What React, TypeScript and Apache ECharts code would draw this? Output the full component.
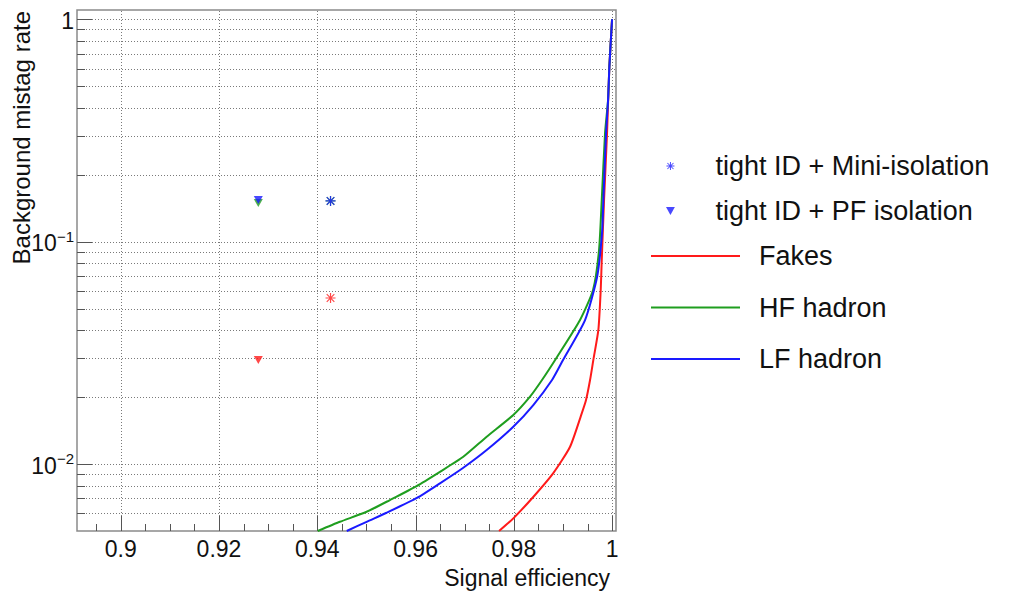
import React, { useEffect, useRef } from "react";
import * as echarts from "echarts";

// ---------- data ----------
const X_MIN = 0.8911;
const X_MAX = 1.0008;
const Y_MIN = 0.005;
const Y_MAX = 1.1;

const xMajorTicks = [0.9, 0.92, 0.94, 0.96, 0.98, 1.0];
const xMinorTicks = [0.895, 0.905, 0.91, 0.915, 0.925, 0.93, 0.935, 0.945, 0.95, 0.955, 0.965, 0.97, 0.975, 0.985, 0.99, 0.995];
const yMajorTicks = [0.01, 0.1, 1];
const yMinorTicks = [0.006, 0.007, 0.008, 0.009, 0.02, 0.03, 0.04, 0.05, 0.06, 0.07, 0.08, 0.09, 0.2, 0.3, 0.4, 0.5, 0.6, 0.7, 0.8, 0.9];

// ROC curves: signal efficiency vs background mistag rate
const fakesEff = [0.977, 0.9799, 0.984, 0.988, 0.99145, 0.99383, 0.9947, 0.99552, 0.99619, 0.99721, 0.99769, 0.9979, 0.99837, 0.99898, 0.99945, 1.0];
const fakesRate = [0.005, 0.0057, 0.00713, 0.00908, 0.01196, 0.0169, 0.0194, 0.02386, 0.0294, 0.0401, 0.0606, 0.0827, 0.1539, 0.3081, 0.612, 1.0];

const hfEff = [0.9401, 0.9446, 0.95004, 0.95479, 0.96022, 0.96497, 0.96972, 0.97448, 0.9799, 0.9833, 0.98574, 0.9888, 0.99348, 0.99613, 0.99735, 0.9979, 0.99857, 0.99919, 0.99945, 1.0];
const hfRate = [0.005, 0.0055, 0.0061, 0.00689, 0.00796, 0.00923, 0.01078, 0.01327, 0.01661, 0.02008, 0.02386, 0.03029, 0.04442, 0.0606, 0.09173, 0.1539, 0.3081, 0.4336, 0.612, 1.0];

const lfEff = [0.946, 0.95004, 0.95411, 0.96029, 0.96497, 0.96965, 0.97448, 0.97984, 0.98397, 0.98778, 0.99002, 0.9945, 0.99695, 0.99796, 0.99823, 0.99878, 0.99919, 0.99945, 1.0];
const lfRate = [0.005, 0.0055, 0.00604, 0.00704, 0.00819, 0.0096, 0.01156, 0.01467, 0.01842, 0.02386, 0.02936, 0.04442, 0.06934, 0.1094, 0.1539, 0.3081, 0.4336, 0.612, 1.0];

// working points, order: Fakes, HF hadron, LF hadron
const miniIsoEff = [0.9427, 0.9427, 0.9427];
const miniIsoRate = [0.0558, 0.1524, 0.1524];
const pfIsoEff = [0.928, 0.928, 0.928];
const pfIsoRate = [0.0294, 0.149, 0.1539];

const curveNames = ["Fakes", "HF hadron", "LF hadron"];
const markerNames = ["tight ID + Mini-isolation", "tight ID + PF isolation"];

// ---------- styles ----------
const RED = "#ff1a1a";
const GREEN = "#1f9e1f";
const BLUE = "#1a1aff";
const pointColors = [RED, GREEN, BLUE];
const FONT = "'Liberation Sans', Arial, Helvetica, sans-serif";
const TEXT = "#111";

const ASTER =
  "path://M4.4,0 L5.6,0 L5.6,10 L4.4,10 Z M0,4.4 L10,4.4 L10,5.6 L0,5.6 Z M0.8,1.6 L1.6,0.8 L9.2,8.4 L8.4,9.2 Z M8.4,0.8 L9.2,1.6 L1.6,9.2 L0.8,8.4 Z";
const TRI_DOWN = "path://M0,0 L10,0 L5,9 Z";
const LINE_ICON = "path://M0,0 L89,0 L89,2 L0,2 Z";

const zip = (a: number[], b: number[]) => a.map((v, i) => [v, b[i]]);

function fmtX(v: number) {
  return String(+v.toFixed(2));
}
function fmtY(v: number) {
  const l = Math.log10(v);
  const r = Math.round(l);
  if (Math.abs(l - r) > 1e-6) return "";
  if (r === 0) return "{n|1}";
  return "{n|10}{s|\u2212" + Math.abs(r) + "}";
}

export default function App() {
  const ref = useRef<HTMLDivElement>(null);

  useEffect(() => {
    if (!ref.current) return;
    const chart = echarts.init(ref.current, undefined, { renderer: "svg" });

    const gridRender = (_params: any, api: any) => {
      const children: any[] = [];
      const dot = { stroke: "#7a7a7a", lineWidth: 1, lineDash: [1, 2], fill: null };
      const tk = { stroke: "#555", lineWidth: 1, fill: null };
      const snap = (p: number) => Math.round(p) + 0.5;
      [...yMajorTicks, ...yMinorTicks].forEach((v) => {
        const a = api.coord([X_MIN, v]);
        const b = api.coord([X_MAX, v]);
        const y = snap(a[1]);
        children.push({ type: "line", shape: { x1: a[0], y1: y, x2: b[0], y2: y }, style: dot });
        const len = yMajorTicks.includes(v) ? 15 : 8;
        children.push({ type: "line", shape: { x1: a[0], y1: y, x2: a[0] + len, y2: y }, style: tk });
      });
      xMajorTicks.forEach((v) => {
        const a = api.coord([v, Y_MIN]);
        const b = api.coord([v, Y_MAX]);
        const x = snap(a[0]);
        children.push({ type: "line", shape: { x1: x, y1: a[1], x2: x, y2: b[1] }, style: dot });
        children.push({ type: "line", shape: { x1: x, y1: a[1], x2: x, y2: a[1] - 15 }, style: tk });
      });
      xMinorTicks.forEach((v) => {
        const a = api.coord([v, Y_MIN]);
        const x = snap(a[0]);
        children.push({ type: "line", shape: { x1: x, y1: a[1], x2: x, y2: a[1] - 7 }, style: tk });
      });
      return { type: "group", children };
    };

    const legendText = { fontSize: 27, lineHeight: 30, color: TEXT, fontFamily: FONT };

    const curve = (name: string, xs: number[], ys: number[], color: string) => ({
      type: "line",
      name,
      data: zip(xs, ys),
      symbol: "none",
      smooth: 0.2,
      z: 3,
      clip: true,
      color,
      lineStyle: { color, width: 2 },
    });

    chart.setOption({
      animation: false,
      backgroundColor: "#ffffff",
      grid: {
        left: 77,
        top: 10,
        right: 414,
        bottom: 63,
        show: true,
        borderColor: "#8a8a8a",
        borderWidth: 1.5,
        backgroundColor: "transparent",
      },
      xAxis: {
        type: "value",
        min: X_MIN,
        max: X_MAX,
        axisLine: { show: false },
        axisTick: { show: false },
        splitLine: { show: false },
        axisLabel: {
          customValues: xMajorTicks,
          formatter: (v: number) => fmtX(v),
          fontSize: 23,
          color: TEXT,
          fontFamily: FONT,
          margin: 6,
        },
      },
      yAxis: {
        type: "log",
        logBase: 10,
        min: Y_MIN,
        max: Y_MAX,
        axisLine: { show: false },
        axisTick: { show: false },
        splitLine: { show: false },
        minorSplitLine: { show: false },
        axisLabel: {
          showMinLabel: false,
          showMaxLabel: false,
          margin: 3,
          formatter: (v: number) => fmtY(v),
          rich: {
            n: { fontSize: 23, lineHeight: 26, color: TEXT, fontFamily: FONT, verticalAlign: "bottom" },
            s: { fontSize: 15, lineHeight: 15, color: TEXT, fontFamily: FONT, verticalAlign: "top" },
          },
        },
      },
      legend: [
        {
          id: "markers",
          orient: "vertical",
          left: 661,
          top: 146,
          itemWidth: 80,
          itemHeight: 8,
          itemGap: 15,
          selectedMode: false,
          data: [
            { name: markerNames[0], icon: ASTER },
            { name: markerNames[1], icon: TRI_DOWN },
          ],
          textStyle: legendText,
        },
        {
          id: "curves",
          orient: "vertical",
          left: 646,
          top: 236,
          itemWidth: 89,
          itemHeight: 14,
          itemGap: 21.5,
          selectedMode: false,
          data: curveNames.map((n) => ({ name: n, icon: LINE_ICON })),
          textStyle: { ...legendText, padding: [0, 0, 0, 14] },
        },
      ],
      graphic: [
        {
          type: "text",
          x: 610,
          y: 578,
          style: { text: "Signal efficiency", fontSize: 23, fontFamily: FONT, fill: TEXT, textAlign: "right", textVerticalAlign: "middle" },
        },
        {
          type: "text",
          x: 21,
          y: 11,
          rotation: Math.PI / 2,
          style: { text: "Background mistag rate", fontSize: 24, fontFamily: FONT, fill: TEXT, textAlign: "right", textVerticalAlign: "middle" },
        },
      ],
      series: [
        {
          type: "custom",
          name: "grid",
          silent: true,
          z: 1,
          clip: false,
          data: [[0.95, 0.1]],
          renderItem: gridRender,
        },
        curve(curveNames[0], fakesEff, fakesRate, RED),
        curve(curveNames[1], hfEff, hfRate, GREEN),
        curve(curveNames[2], lfEff, lfRate, BLUE),
        {
          type: "scatter",
          name: markerNames[0],
          symbol: ASTER,
          symbolSize: 10,
          z: 4,
          itemStyle: { color: BLUE },
          data: zip(miniIsoEff, miniIsoRate).map((v, i) => ({ value: v, itemStyle: { color: pointColors[i] } })),
        },
        {
          type: "scatter",
          name: markerNames[1],
          symbol: TRI_DOWN,
          symbolSize: [9, 8],
          z: 4,
          itemStyle: { color: BLUE },
          data: zip(pfIsoEff, pfIsoRate).map((v, i) => ({ value: v, itemStyle: { color: pointColors[i] } })),
        },
      ],
    });

    return () => chart.dispose();
  }, []);

  return (
    <div
      ref={ref}
      style={{ position: "fixed", left: 0, top: 0, width: 1030, height: 594, background: "#fff" }}
    />
  );
}
